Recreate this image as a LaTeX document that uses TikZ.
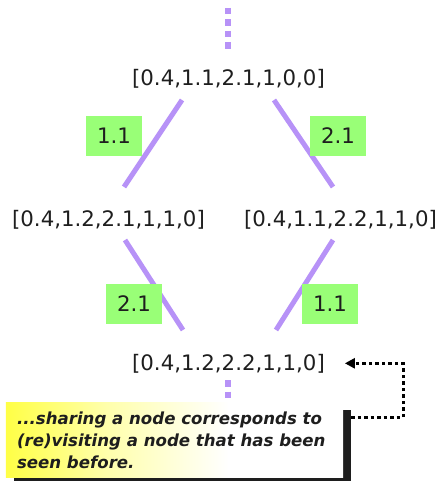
\documentclass[tikz,border=0pt]{standalone}
\usepackage{fontspec}
\setmainfont{DejaVu Sans}
\usetikzlibrary{arrows.meta,calc}

\definecolor{edgepurple}{RGB}{183,146,247}
\definecolor{labelgreen}{RGB}{153,255,119}
\definecolor{inkgray}{RGB}{30,30,30}
\definecolor{noteyellow}{RGB}{255,255,70}

% yellow on the left fading out to white
\pgfdeclarehorizontalshading{notefade}{100bp}{%
  color(0bp)=(noteyellow); color(25bp)=(noteyellow);
  color(40bp)=(noteyellow!45!white); color(58bp)=(white); color(100bp)=(white)}

\tikzset{
  state/.style={inner sep=0pt, outer sep=0pt, text=inkgray,
    font=\fontsize{21.3bp}{25bp}\selectfont, anchor=base},
  edge/.style={edgepurple, line width=5bp},
  elided/.style={edgepurple, line width=6bp, dash pattern=on 6.5bp off 5bp},
  choice/.style={fill=labelgreen, inner sep=0pt, outer sep=0pt,
    minimum width=56bp, minimum height=40bp, text=inkgray,
    font=\fontsize{21.3bp}{25bp}\selectfont},
  notebox/.style={shading=notefade, inner sep=0pt, outer sep=0pt,
    minimum width=337bp, minimum height=75bp},
  noteshadow/.style={fill=inkgray, inner sep=0pt, outer sep=0pt,
    minimum width=337bp, minimum height=75bp},
  notetext/.style={inner sep=0pt, outer sep=0pt, text=inkgray, align=left,
    font=\fontsize{16.6bp}{22bp}\selectfont\bfseries\itshape},
  backlink/.style={black, line width=3bp, dash pattern=on 3.5bp off 3bp,
    -{Triangle[length=10bp,width=10bp]}}
}

\begin{document}
\begin{tikzpicture}[x=1bp, y=-1bp]
\useasboundingbox (0,0) rectangle (442,481);

% states of the search
\node[state] (top) at (228.5,86) {[0.4,1.1,2.1,1,0,0]};
\node[state] (ml)  at (108.5,226) {[0.4,1.2,2.1,1,1,0]};
\node[state] (mr)  at (340.5,226) {[0.4,1.1,2.2,1,1,0]};
\node[state] (bot) at (228.5,370) {[0.4,1.2,2.2,1,1,0]};

% omitted parts of the tree above and below
\draw[elided] (228,8) -- (228,50);
\draw[elided] (228,380) -- (228,398);

% transitions
\coordinate (t1a) at (182,100); \coordinate (t1b) at (124,187);
\coordinate (t2a) at (274,100); \coordinate (t2b) at (333,187);
\coordinate (b1a) at (125,240); \coordinate (b1b) at (183,330);
\coordinate (b2a) at (333,240); \coordinate (b2b) at (276,330);
\draw[edge] (t1a) -- (t1b);
\draw[edge] (t2a) -- (t2b);
\draw[edge] (b1a) -- (b1b);
\draw[edge] (b2a) -- (b2b);

% transition labels
\node[choice] (c1) at (114,136) {1.1};
\node[choice] (c2) at (338,136) {2.1};
\node[choice] (c3) at (134,303.5) {2.1};
\node[choice] (c4) at (330,303.5) {1.1};

% callout (the base anchor of a multi-line node sits on its last line)
\coordinate (notec) at (174.5,439.5);
\node[noteshadow] (shadow) at ($(notec)+(8,8)$) {};
\node[notebox] (note) at (notec) {};
\node[notetext, anchor=base west] (notetxt) at (17,468)
  {...sharing a node corresponds to\\(re)visiting a node that has been\\seen before.};

\draw[backlink] ($(shadow.north east)+(0,7)$) -- ++(52,0)
  |- ($(bot.east)+(20,0)$);
\end{tikzpicture}
\end{document}
